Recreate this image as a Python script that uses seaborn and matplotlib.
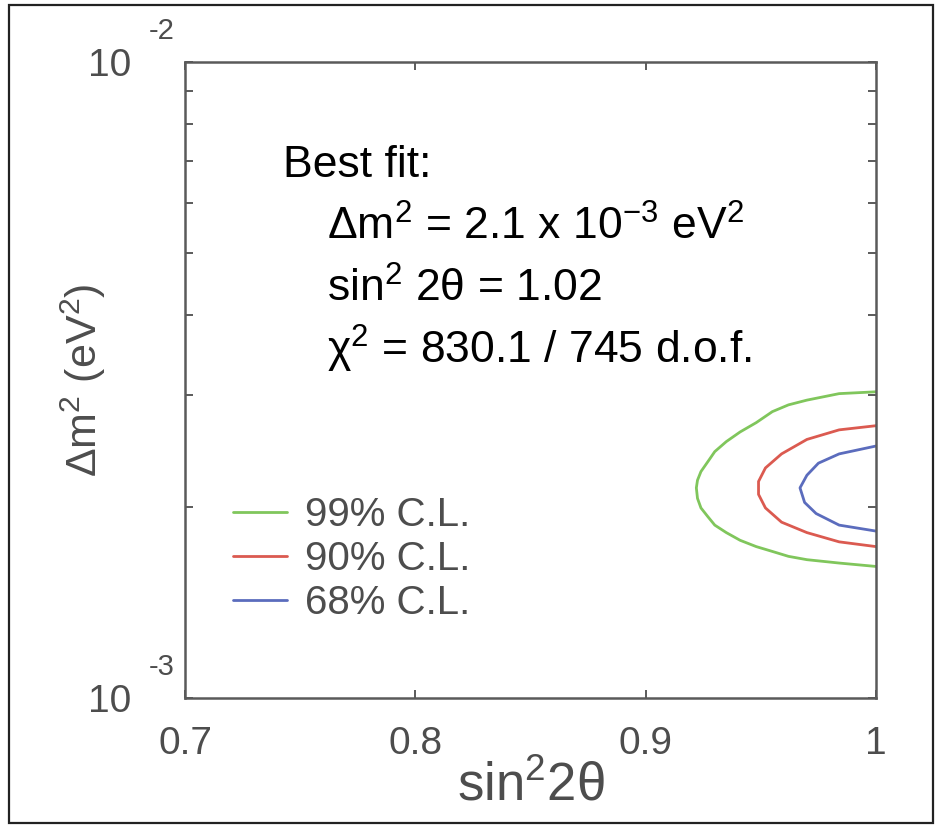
import matplotlib
matplotlib.use("Agg")
import matplotlib.pyplot as plt
import seaborn as sns
from matplotlib.patches import Rectangle
from matplotlib.ticker import NullFormatter

# contour points (x = sin^2 2theta, y = dm^2 in eV^2)
cl99_x = [1.0, 0.984, 0.970, 0.962, 0.955, 0.948, 0.941, 0.935, 0.930, 0.9276, 0.924, 0.9225,
          0.922, 0.9225, 0.924, 0.9269, 0.930, 0.935, 0.941, 0.948, 0.955, 0.962, 0.970, 0.984, 1.0]
cl99_y = [3.03e-3, 3.01e-3, 2.94e-3, 2.89e-3, 2.82e-3, 2.71e-3, 2.62e-3, 2.53e-3, 2.44e-3,
          2.37e-3, 2.27e-3, 2.20e-3, 2.14e-3, 2.06e-3, 1.99e-3, 1.93e-3, 1.87e-3, 1.82e-3,
          1.77e-3, 1.73e-3, 1.70e-3, 1.67e-3, 1.65e-3, 1.63e-3, 1.61e-3]
cl90_x = [1.0, 0.984, 0.970, 0.959, 0.952, 0.949, 0.949, 0.952, 0.959, 0.970, 0.984, 1.0]
cl90_y = [2.68e-3, 2.64e-3, 2.55e-3, 2.42e-3, 2.30e-3, 2.19e-3, 2.09e-3, 1.99e-3,
          1.89e-3, 1.82e-3, 1.76e-3, 1.73e-3]
cl68_x = [1.0, 0.984, 0.975, 0.970, 0.967, 0.969, 0.974, 0.984, 1.0]
cl68_y = [2.49e-3, 2.42e-3, 2.34e-3, 2.24e-3, 2.14e-3, 2.03e-3, 1.95e-3, 1.87e-3, 1.83e-3]

levels = ["99% C.L.", "90% C.L.", "68% C.L."]
colors = ["#80c65c", "#db5a50", "#5b6cbd"]
x_ticks = [0.7, 0.8, 0.9, 1.0]
x_ticklabels = ["0.7", "0.8", "0.9", "1"]

sns.set_style("ticks")
plt.rcParams["font.family"] = ["Liberation Sans", "DejaVu Sans"]
plt.rcParams["mathtext.fontset"] = "custom"
plt.rcParams["mathtext.rm"] = "Liberation Sans"
plt.rcParams["mathtext.it"] = "Liberation Sans:italic"
plt.rcParams["mathtext.bf"] = "Liberation Sans:bold"

gray = "#4d4d4d"
axis_gray = "#5a5a5a"

fig = plt.figure(figsize=(9.36, 8.25), dpi=100)
ax = fig.add_axes([185 / 936, 1 - 698 / 825, 691 / 936, 636 / 825])

for xs, ys, lab, col in zip([cl99_x, cl90_x, cl68_x], [cl99_y, cl90_y, cl68_y], levels, colors):
    sns.lineplot(x=xs, y=ys, sort=False, estimator=None, color=col, label=lab,
                 linewidth=2.0, ax=ax)
for ln in ax.get_lines():
    ln.set_solid_joinstyle("round")

ax.set_yscale("log")
ax.set_xlim(0.7, 1.0)
ax.set_ylim(1e-3, 1e-2)
ax.set_xticks(x_ticks)
ax.set_xticklabels(x_ticklabels)
ax.set_yticks([1e-3, 1e-2])
ax.set_yticklabels(["10", "10"])
ax.yaxis.set_minor_formatter(NullFormatter())

for s in ax.spines.values():
    s.set_color(axis_gray)
    s.set_linewidth(1.8)
    s.set_visible(True)
ax.tick_params(which="both", direction="in", top=True, right=True,
               color=axis_gray, width=1.4, length=6)
ax.tick_params(axis="x", labelsize=28, labelcolor=gray, pad=20)
ax.tick_params(axis="y", labelsize=28, labelcolor=gray, pad=39)

# exponents of the y tick labels, matlab style
for yv, ex in [(1e-2, "-2"), (1e-3, "-3")]:
    ax.annotate(ex, xy=(0, yv), xycoords=("axes fraction", "data"),
                xytext=(-17, 22), textcoords="offset points",
                ha="center", va="center", fontsize=21, color=gray)

ax.set_xlabel("sin$^2$2θ", fontsize=38, color=gray, labelpad=0)
ax.set_ylabel("Δm$^2$ (eV$^2$)", fontsize=31, color=gray)
ax.yaxis.set_label_coords(-0.111, 0.5)

# best fit box
ax.text(0.142, 0.819, "Best fit:", transform=ax.transAxes, fontsize=32, va="baseline", color="black")
ax.text(0.2055, 0.720, "Δm$^2$ = 2.1 x 10$^{-3}$ eV$^2$", transform=ax.transAxes,
        fontsize=32, va="baseline", color="black")
ax.text(0.2055, 0.623, "sin$^2$ 2θ = 1.02", transform=ax.transAxes,
        fontsize=32, va="baseline", color="black")
ax.text(0.2055, 0.525, "χ$^2$ = 830.1 / 745 d.o.f.", transform=ax.transAxes,
        fontsize=32, va="baseline", color="black")

leg = ax.legend(loc="center left", bbox_to_anchor=(0.0695, 0.2186), frameon=False,
                fontsize=29, handlelength=1.34, handletextpad=0.45, labelspacing=0.15,
                borderpad=0, borderaxespad=0)
for t in leg.get_texts():
    t.set_color(gray)

# frame around the whole picture
fig.patches.append(Rectangle((9 / 936, 2 / 825), 924 / 936, 818 / 825, transform=fig.transFigure,
                             fill=False, edgecolor="#222222", linewidth=1.6))

fig.savefig("out.png", dpi=100)
